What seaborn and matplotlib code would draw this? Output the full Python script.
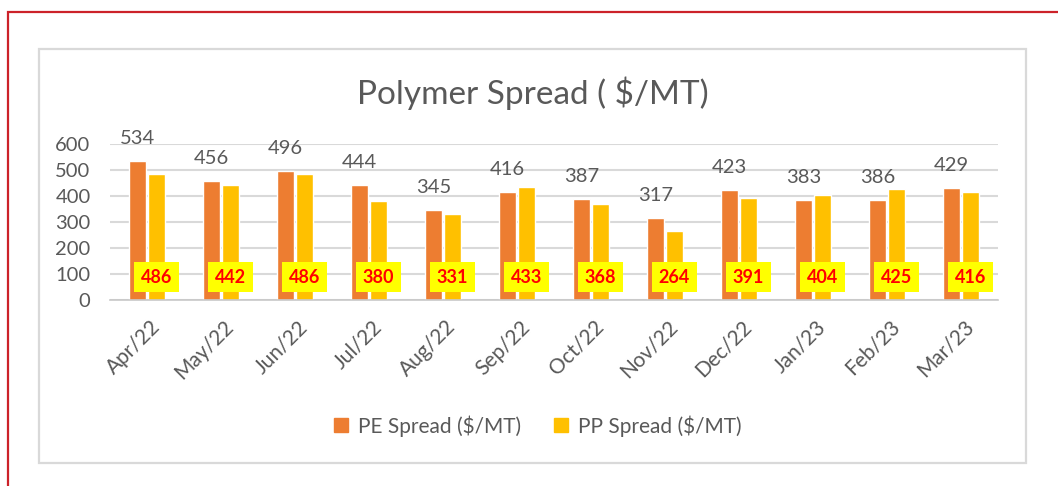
import pandas as pd
import numpy as np
import matplotlib
matplotlib.use('Agg')
import matplotlib.pyplot as plt
import matplotlib.patches as patches
from matplotlib.transforms import ScaledTranslation
import seaborn as sns

# ============================================================================
# DATA
# ============================================================================
months = ['Apr/22', 'May/22', 'Jun/22', 'Jul/22', 'Aug/22', 'Sep/22',
          'Oct/22', 'Nov/22', 'Dec/22', 'Jan/23', 'Feb/23', 'Mar/23']
pe_spread = [534, 456, 496, 444, 345, 416, 387, 317, 423, 383, 386, 429]
pp_spread = [486, 442, 486, 380, 331, 433, 368, 264, 391, 404, 425, 416]
series_names = ['PE Spread ($/MT)', 'PP Spread ($/MT)']
series_colors = ['#ED7D31', '#FFC000']
y_ticks = [0, 100, 200, 300, 400, 500, 600]

df = pd.DataFrame({
    'Month': months * 2,
    'Series': [series_names[0]] * len(months) + [series_names[1]] * len(months),
    'Value': pe_spread + pp_spread,
})

# ============================================================================
# VISUALIZATION
# ============================================================================
sns.set_style('white')
plt.rcParams['font.family'] = ['Lato', 'DejaVu Sans']
text_grey = '#595959'

fig = plt.figure(figsize=(10.58, 4.86), dpi=100)
ax = fig.add_axes([110 / 1058, 186 / 486, 888 / 1058, 156 / 486])

sns.barplot(data=df, x='Month', y='Value', hue='Series', order=months,
            hue_order=series_names, palette=series_colors, width=0.5, gap=0.1,
            saturation=1, ax=ax, legend=False)

ax.set_ylim(0, 600)
ax.set_xlim(-0.5, len(months) - 0.5)
ax.set_yticks(y_ticks)
ax.set_xlabel('')
ax.set_ylabel('')
ax.yaxis.grid(True, color='#d9d9d9', linewidth=1.5)
ax.set_axisbelow(True)
for side in ['top', 'right', 'left']:
    ax.spines[side].set_visible(False)
ax.spines['bottom'].set_color('#c8c8c8')
ax.spines['bottom'].set_linewidth(1.2)

ax.tick_params(axis='y', length=0, pad=14, labelsize=14.5, labelcolor=text_grey)
ax.tick_params(axis='x', which='major', length=0, pad=12, labelsize=15, labelcolor=text_grey)
ax.set_xticks(np.arange(-0.5, len(months), 1), minor=True)
ax.tick_params(axis='x', which='minor', length=5, width=1.2, color='#c8c8c8')
offset = ScaledTranslation(2 / 72, 0, fig.dpi_scale_trans)
for lbl in ax.get_xticklabels():
    lbl.set_rotation(45)
    lbl.set_ha('right')
    lbl.set_rotation_mode('anchor')
    lbl.set_transform(lbl.get_transform() + offset)

# PE labels above the bars
for bar in ax.containers[0]:
    h = bar.get_height()
    ax.annotate(f'{h:.0f}', (bar.get_x() + bar.get_width() / 2, h),
                xytext=(0, 14), textcoords='offset pixels', ha='center', va='bottom',
                fontsize=14.5, color=text_grey, annotation_clip=False)

# PP labels in yellow boxes near the bottom
for bar in ax.containers[1]:
    h = bar.get_height()
    ax.text(bar.get_x() + bar.get_width() / 2, 88, f'{h:.0f}',
            ha='center', va='center', fontsize=13, fontweight='bold', color='#FF0000',
            bbox=dict(boxstyle='square,pad=0.38', fc='#FFFF00', ec='none'))

# Legend
handles = [patches.Patch(color=c) for c in series_colors]
fig.legend(handles, series_names, loc='center', bbox_to_anchor=(538 / 1058, 1 - 426 / 486),
           ncol=2, frameon=False, fontsize=15, labelcolor=text_grey,
           handlelength=0.65, handleheight=0.65, handletextpad=0.5, columnspacing=1.6)

# Title
fig.text(533 / 1058, 1 - 93 / 486, 'Polymer Spread ( $/MT)', ha='center', va='center',
         fontsize=24, color=text_grey)

# Chart frame and red outer border
fig.add_artist(patches.Rectangle((39 / 1058, 1 - 463 / 486), 987 / 1058, 414 / 486,
                                 transform=fig.transFigure, fill=False,
                                 edgecolor='#d9d9d9', linewidth=1.6))
fig.add_artist(patches.Rectangle((8 / 1058, -0.1), 1.2, 1.1 - 12 / 486,
                                 transform=fig.transFigure, fill=False,
                                 edgecolor='#cc2229', linewidth=1.6))

plt.savefig('out.png', dpi=100)
